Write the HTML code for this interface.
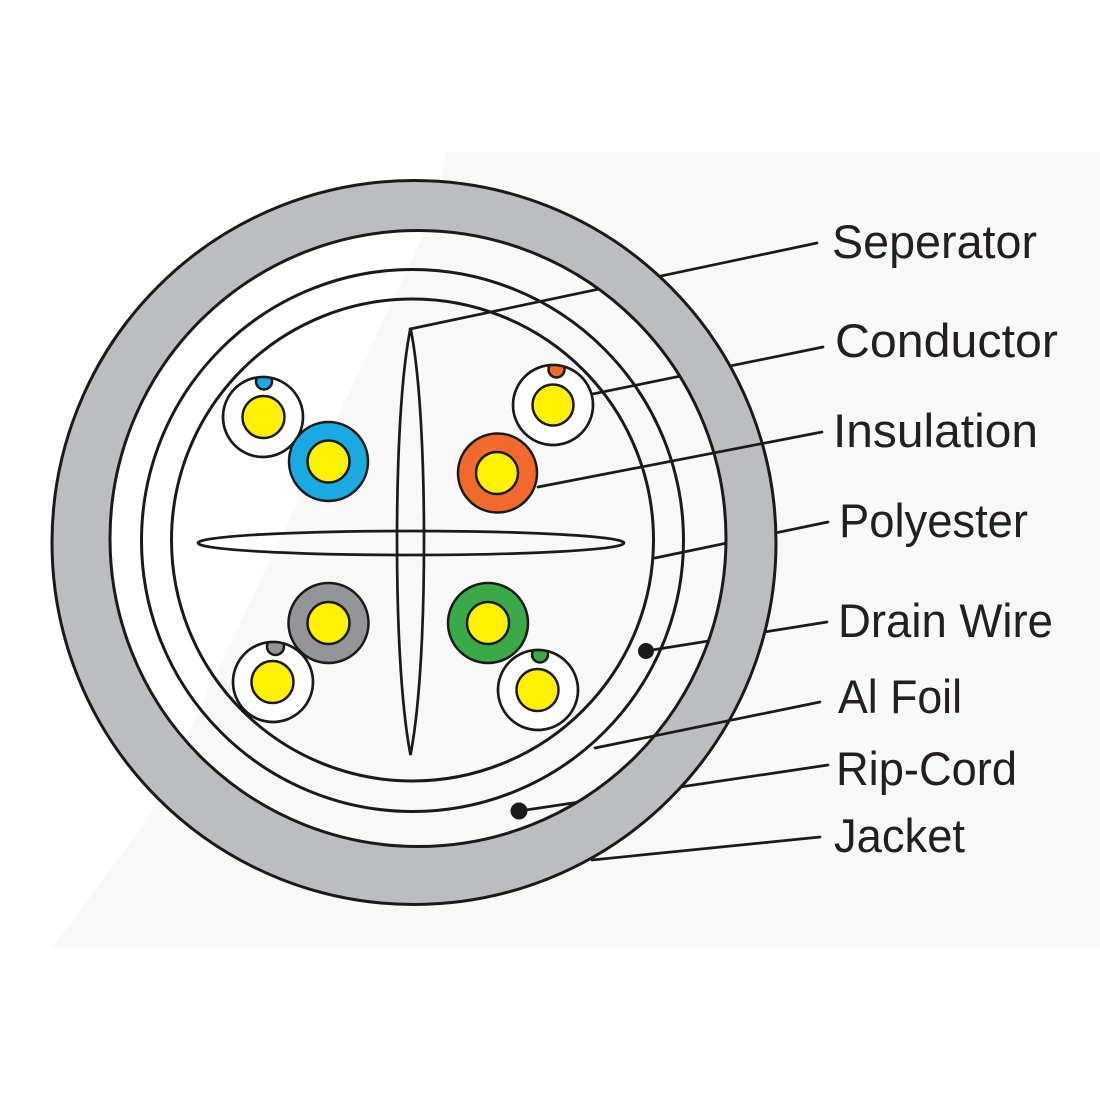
<!DOCTYPE html>
<html>
<head>
<meta charset="utf-8">
<style>
html,body{margin:0;padding:0;background:#fff;}
svg{display:block;}
text{font-family:"Liberation Sans",sans-serif;font-size:47px;fill:#231f20;}
</style>
</head>
<body>
<svg width="1100" height="1100" viewBox="0 0 1100 1100" xmlns="http://www.w3.org/2000/svg">
  <defs>
    <clipPath id="cb"><circle cx="263" cy="417" r="40"/></clipPath>
    <clipPath id="co"><circle cx="553" cy="405" r="40"/></clipPath>
    <clipPath id="cg"><circle cx="273" cy="682" r="40"/></clipPath>
    <clipPath id="cn"><circle cx="538" cy="690" r="40"/></clipPath>
  </defs>
  <rect x="0" y="0" width="1100" height="1100" fill="#ffffff"/>
  <polygon points="445,152 1100,152 1100,948 52,948 147,820 440,200" fill="#f8f8f8"/>

  <!-- leader lines hidden under jacket -->
  <g stroke="#1a1a1a" stroke-width="2.7" fill="none" stroke-linecap="round">
    <line x1="410" y1="329" x2="817" y2="243"/>
    <line x1="573" y1="398" x2="823" y2="347"/>
    <line x1="655" y1="558" x2="828" y2="522"/>
    <line x1="646" y1="651" x2="827" y2="622"/>
    <line x1="519" y1="811" x2="828" y2="765"/>
  </g>

  <!-- jacket -->
  <path d="M 52,542.5 A 362,362 0 1,0 776,542.5 A 362,362 0 1,0 52,542.5 Z M 110,538.5 A 308,308 0 1,1 726,538.5 A 308,308 0 1,1 110,538.5 Z"
        fill="#bcbdc0" fill-rule="evenodd" stroke="#1a1a1a" stroke-width="3"/>

  <!-- inner rings -->
  <circle cx="412.5" cy="540.5" r="271" fill="none" stroke="#1a1a1a" stroke-width="3"/>
  <circle cx="412.5" cy="540" r="241" fill="none" stroke="#1a1a1a" stroke-width="3"/>

  <!-- separator -->
  <ellipse cx="411" cy="543" rx="213" ry="12" fill="none" stroke="#1a1a1a" stroke-width="2.7"/>
  <path d="M 410.5,328 C 400,380 397,470 397,541 C 397,612 400,700 410.5,755 C 421,700 424,612 424,541 C 424,470 421,380 410.5,328 Z" fill="none" stroke="#1a1a1a" stroke-width="2.7"/>

  <!-- wires -->
  <g stroke="#1a1a1a" stroke-width="2.5">
    <!-- blue pair -->
    <circle cx="263" cy="417" r="40" fill="#ffffff"/>
    <circle cx="264" cy="381.5" r="8" fill="#1aa9e1" clip-path="url(#cb)"/>
    <circle cx="263" cy="417" r="40" fill="none"/>
    <circle cx="263.5" cy="417" r="21" fill="#fff200"/>
    <circle cx="328.5" cy="461.5" r="39.5" fill="#1aa9e1"/>
    <circle cx="328.5" cy="461.5" r="21" fill="#fff200"/>

    <!-- orange pair -->
    <circle cx="553" cy="405" r="40" fill="#ffffff"/>
    <circle cx="556.5" cy="369.5" r="8" fill="#f26a2b" clip-path="url(#co)"/>
    <circle cx="553" cy="405" r="40" fill="none"/>
    <circle cx="553" cy="405" r="20.5" fill="#fff200"/>
    <circle cx="497.5" cy="473" r="39.5" fill="#f26a2b"/>
    <circle cx="497" cy="473" r="21" fill="#fff200"/>

    <!-- gray pair -->
    <circle cx="328.5" cy="623" r="40" fill="#939598"/>
    <circle cx="328.5" cy="623" r="21" fill="#fff200"/>
    <circle cx="273" cy="682" r="40" fill="#ffffff"/>
    <circle cx="275.5" cy="646.5" r="8.5" fill="#939598" clip-path="url(#cg)"/>
    <circle cx="273" cy="682" r="40" fill="none"/>
    <circle cx="272.5" cy="682" r="21" fill="#fff200"/>

    <!-- green pair -->
    <circle cx="488" cy="623" r="40" fill="#3aa948"/>
    <circle cx="488" cy="623" r="21" fill="#fff200"/>
    <circle cx="538" cy="690" r="40" fill="#ffffff"/>
    <circle cx="540" cy="654.5" r="8" fill="#3aa948" clip-path="url(#cn)"/>
    <circle cx="538" cy="690" r="40" fill="none"/>
    <circle cx="537.5" cy="690" r="21" fill="#fff200"/>
  </g>

  <!-- leader lines drawn on top -->
  <g stroke="#1a1a1a" stroke-width="2.7" fill="none" stroke-linecap="round">
    <line x1="538" y1="487" x2="822" y2="432"/>
    <line x1="595" y1="748" x2="820" y2="702"/>
    <line x1="592" y1="860" x2="820" y2="837"/>
  </g>

  <!-- drain wire & rip-cord dots -->
  <circle cx="646" cy="651" r="8" fill="#1a1a1a"/>
  <circle cx="519" cy="811" r="8.5" fill="#1a1a1a"/>

  <!-- labels -->
  <text x="832" y="258" textLength="205" lengthAdjust="spacingAndGlyphs">Seperator</text>
  <text x="835" y="357" textLength="223" lengthAdjust="spacingAndGlyphs">Conductor</text>
  <text x="833" y="447" textLength="205" lengthAdjust="spacingAndGlyphs">Insulation</text>
  <text x="839" y="537" textLength="189" lengthAdjust="spacingAndGlyphs">Polyester</text>
  <text x="838" y="637" textLength="215" lengthAdjust="spacingAndGlyphs">Drain Wire</text>
  <text x="838" y="713" textLength="124" lengthAdjust="spacingAndGlyphs">Al Foil</text>
  <text x="836" y="785" textLength="181" lengthAdjust="spacingAndGlyphs">Rip-Cord</text>
  <text x="834" y="852" textLength="131" lengthAdjust="spacingAndGlyphs">Jacket</text>
</svg>
</body>
</html>
